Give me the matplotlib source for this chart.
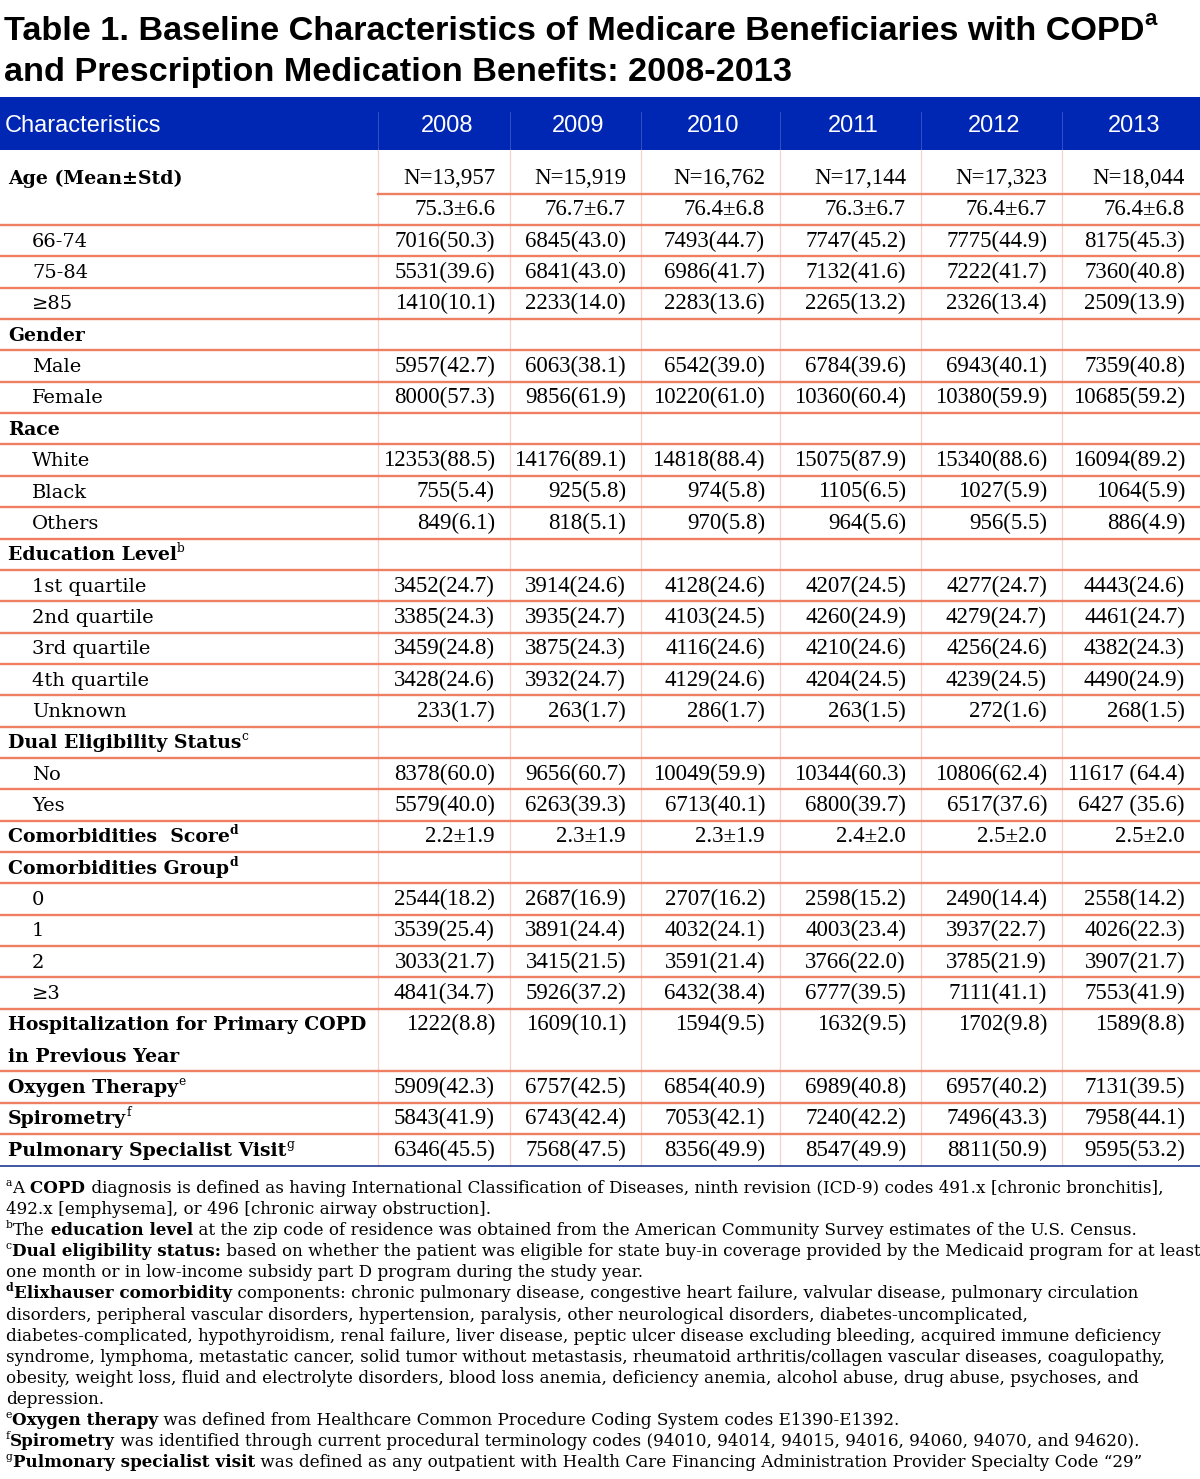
import matplotlib
matplotlib.use("Agg")
import matplotlib.pyplot as plt

# table 1 - baseline characteristics, drawn as text on a pixel-sized axes
W, H = 1200, 1479

years = ["2008", "2009", "2010", "2011", "2012", "2013"]

age_n = ["N=13,957", "N=15,919", "N=16,762", "N=17,144", "N=17,323", "N=18,044"]
age_mean = ["75.3±6.6", "76.7±6.7", "76.4±6.8", "76.3±6.7", "76.4±6.7", "76.4±6.8"]
age_66_74 = ["7016(50.3)", "6845(43.0)", "7493(44.7)", "7747(45.2)", "7775(44.9)", "8175(45.3)"]
age_75_84 = ["5531(39.6)", "6841(43.0)", "6986(41.7)", "7132(41.6)", "7222(41.7)", "7360(40.8)"]
age_85 = ["1410(10.1)", "2233(14.0)", "2283(13.6)", "2265(13.2)", "2326(13.4)", "2509(13.9)"]
male = ["5957(42.7)", "6063(38.1)", "6542(39.0)", "6784(39.6)", "6943(40.1)", "7359(40.8)"]
female = ["8000(57.3)", "9856(61.9)", "10220(61.0)", "10360(60.4)", "10380(59.9)", "10685(59.2)"]
white = ["12353(88.5)", "14176(89.1)", "14818(88.4)", "15075(87.9)", "15340(88.6)", "16094(89.2)"]
black = ["755(5.4)", "925(5.8)", "974(5.8)", "1105(6.5)", "1027(5.9)", "1064(5.9)"]
others = ["849(6.1)", "818(5.1)", "970(5.8)", "964(5.6)", "956(5.5)", "886(4.9)"]
edu_q1 = ["3452(24.7)", "3914(24.6)", "4128(24.6)", "4207(24.5)", "4277(24.7)", "4443(24.6)"]
edu_q2 = ["3385(24.3)", "3935(24.7)", "4103(24.5)", "4260(24.9)", "4279(24.7)", "4461(24.7)"]
edu_q3 = ["3459(24.8)", "3875(24.3)", "4116(24.6)", "4210(24.6)", "4256(24.6)", "4382(24.3)"]
edu_q4 = ["3428(24.6)", "3932(24.7)", "4129(24.6)", "4204(24.5)", "4239(24.5)", "4490(24.9)"]
edu_unk = ["233(1.7)", "263(1.7)", "286(1.7)", "263(1.5)", "272(1.6)", "268(1.5)"]
dual_no = ["8378(60.0)", "9656(60.7)", "10049(59.9)", "10344(60.3)", "10806(62.4)", "11617 (64.4)"]
dual_yes = ["5579(40.0)", "6263(39.3)", "6713(40.1)", "6800(39.7)", "6517(37.6)", "6427 (35.6)"]
comorb_score = ["2.2±1.9", "2.3±1.9", "2.3±1.9", "2.4±2.0", "2.5±2.0", "2.5±2.0"]
grp_0 = ["2544(18.2)", "2687(16.9)", "2707(16.2)", "2598(15.2)", "2490(14.4)", "2558(14.2)"]
grp_1 = ["3539(25.4)", "3891(24.4)", "4032(24.1)", "4003(23.4)", "3937(22.7)", "4026(22.3)"]
grp_2 = ["3033(21.7)", "3415(21.5)", "3591(21.4)", "3766(22.0)", "3785(21.9)", "3907(21.7)"]
grp_3 = ["4841(34.7)", "5926(37.2)", "6432(38.4)", "6777(39.5)", "7111(41.1)", "7553(41.9)"]
hosp = ["1222(8.8)", "1609(10.1)", "1594(9.5)", "1632(9.5)", "1702(9.8)", "1589(8.8)"]
oxygen = ["5909(42.3)", "6757(42.5)", "6854(40.9)", "6989(40.8)", "6957(40.2)", "7131(39.5)"]
spiro = ["5843(41.9)", "6743(42.4)", "7053(42.1)", "7240(42.2)", "7496(43.3)", "7958(44.1)"]
pulm = ["6346(45.5)", "7568(47.5)", "8356(49.9)", "8547(49.9)", "8811(50.9)", "9595(53.2)"]

# (label, superscript, bold?, values)
rows = [
    ("Age (Mean±Std)", "", True, age_n),
    ("", "", False, age_mean),
    ("66-74", "", False, age_66_74),
    ("75-84", "", False, age_75_84),
    ("≥85", "", False, age_85),
    ("Gender", "", True, None),
    ("Male", "", False, male),
    ("Female", "", False, female),
    ("Race", "", True, None),
    ("White", "", False, white),
    ("Black", "", False, black),
    ("Others", "", False, others),
    ("Education Level", "b", True, None),
    ("1st quartile", "", False, edu_q1),
    ("2nd quartile", "", False, edu_q2),
    ("3rd quartile", "", False, edu_q3),
    ("4th quartile", "", False, edu_q4),
    ("Unknown", "", False, edu_unk),
    ("Dual Eligibility Status", "c", True, None),
    ("No", "", False, dual_no),
    ("Yes", "", False, dual_yes),
    ("Comorbidities  Score", "d", True, comorb_score),
    ("Comorbidities Group", "d", True, None),
    ("0", "", False, grp_0),
    ("1", "", False, grp_1),
    ("2", "", False, grp_2),
    ("≥3", "", False, grp_3),
    ("Hospitalization for Primary COPD", "", True, hosp),
    ("in Previous Year", "", True, None),
    ("Oxygen Therapy", "e", True, oxygen),
    ("Spirometry", "f", True, spiro),
    ("Pulmonary Specialist Visit", "g", True, pulm),
]

title_lines = [
    [("Table 1. Baseline Characteristics of Medicare Beneficiaries with COPD", "b"), ("a", "supb")],
    [("and Prescription Medication Benefits: 2008-2013", "b")],
]

footnotes = [
    [("a", "sup"), ("A", "r"), (" COPD", "b"), (" diagnosis is defined as having International Classification of Diseases, ninth revision (ICD-9) codes 491.x [chronic bronchitis],", "r")],
    [("492.x [emphysema], or 496 [chronic airway obstruction].", "r")],
    [("b", "sup"), ("The", "r"), (" education level", "b"), (" at the zip code of residence was obtained from the American Community Survey estimates of the U.S. Census.", "r")],
    [("c", "sup"), ("Dual eligibility status:", "b"), (" based on whether the patient was eligible for state buy-in coverage provided by the Medicaid program for at least", "r")],
    [("one month or in low-income subsidy part D program during the study year.", "r")],
    [("d", "supb"), ("Elixhauser comorbidity", "b"), (" components: chronic pulmonary disease, congestive heart failure, valvular disease, pulmonary circulation", "r")],
    [("disorders, peripheral vascular disorders, hypertension, paralysis, other neurological disorders, diabetes-uncomplicated,", "r")],
    [("diabetes-complicated, hypothyroidism, renal failure, liver disease, peptic ulcer disease excluding bleeding, acquired immune deficiency", "r")],
    [("syndrome, lymphoma, metastatic cancer, solid tumor without metastasis, rheumatoid arthritis/collagen vascular diseases, coagulopathy,", "r")],
    [("obesity, weight loss, fluid and electrolyte disorders, blood loss anemia, deficiency anemia, alcohol abuse, drug abuse, psychoses, and", "r")],
    [("depression.", "r")],
    [("e", "sup"), ("Oxygen therapy", "b"), (" was defined from Healthcare Common Procedure Coding System codes E1390-E1392.", "r")],
    [("f", "sup"), ("Spirometry", "b"), (" was identified through current procedural terminology codes (94010, 94014, 94015, 94016, 94060, 94070, and 94620).", "r")],
    [("g", "sup"), ("Pulmonary specialist visit", "b"), (" was defined as any outpatient with Health Care Financing Administration Provider Specialty Code \u201c29\u201d", "r")],
]

# layout
col_edges = [0, 378, 510, 641, 780, 921, 1062, 1200]
header_top, header_bot = 97, 150
row0, row_h = 178, 31.35
table_bot = 1166
blue = "#0026b4"
rule = "#ef7f62"

fig = plt.figure(figsize=(W / 100, H / 100), dpi=100)
ax = fig.add_axes([0, 0, 1, 1])
ax.set_xlim(0, W)
ax.set_ylim(H, 0)
ax.axis("off")
renderer = fig.canvas.get_renderer()


def draw_runs(x, y, parts, size, family):
    # draw mixed bold / superscript runs on one baseline
    for txt, style in parts:
        sup = style.startswith("sup")
        bold = style in ("b", "supb")
        fs = size * 0.65 if sup else size
        yy = y - size * 0.6 if sup else y
        t = ax.text(x, yy, txt, fontsize=fs, family=family,
                    fontweight="bold" if bold else "normal", va="baseline", ha="left")
        x += t.get_window_extent(renderer).width
    return x


# title
draw_runs(4, 40, title_lines[0], 24.7, "Liberation Sans")
draw_runs(4, 81, title_lines[1], 24.7, "Liberation Sans")

# header band
ax.add_patch(plt.Rectangle((0, header_top), W, header_bot - header_top, color=blue, lw=0))
ax.text(5, 126, "Characteristics", color="white", fontsize=17, family="Liberation Sans", va="center")
for i, yr in enumerate(years):
    cx = (col_edges[i + 1] + col_edges[i + 2]) / 2 + 3
    ax.text(cx, 126, yr, color="white", fontsize=17, family="Liberation Sans", va="center", ha="center")
for xe in col_edges[1:-1]:
    ax.plot([xe, xe], [112, header_bot], color="#3a58c4", lw=0.6)
    ax.plot([xe, xe], [header_bot, table_bot], color="#f6d3ca", lw=0.9)

# body
for i, (label, sup, bold, vals) in enumerate(rows):
    cy = row0 + i * row_h
    base = cy + 6
    if label:
        parts = [(label, "b" if bold else "r")]
        if sup:
            parts.append((sup, "supb" if sup == "d" else "sup"))
        draw_runs(8 if bold else 32, base, parts, 13.6 if bold else 14, "DejaVu Serif")
    if vals is not None:
        for j, v in enumerate(vals):
            ax.text(col_edges[j + 2] - 15, base, v, ha="right", va="baseline",
                    fontsize=16.5, family="Liberation Serif")
    # horizontal rule under the row
    yl = cy + row_h / 2
    if i == 0:
        ax.plot([col_edges[1], W], [yl, yl], color=rule, lw=1.7)
    elif label == "Hospitalization for Primary COPD" or i == len(rows) - 1:
        pass
    else:
        ax.plot([0, W], [yl, yl], color=rule, lw=1.7)

ax.plot([0, W], [table_bot, table_bot], color="#1f3a8f", lw=1.2)

# footnotes
for k, parts in enumerate(footnotes):
    draw_runs(6, 1193 + k * 21.1, parts, 12.1, "DejaVu Serif")

fig.savefig("out.png", dpi=100)
